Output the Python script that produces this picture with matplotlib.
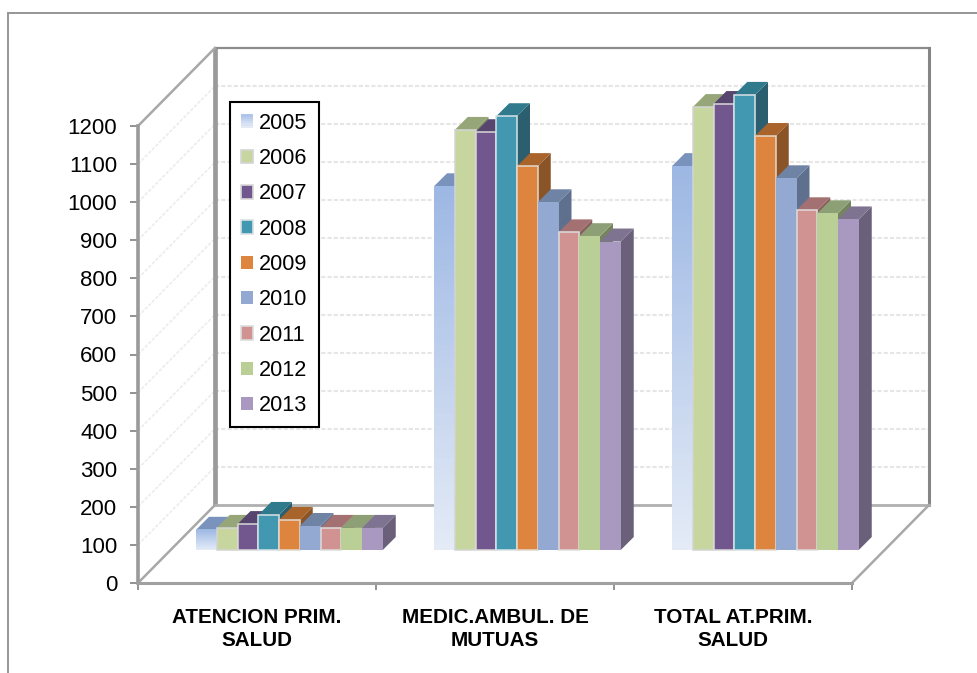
"""
Pseudo 3D clustered columns, Excel style.
"""

import matplotlib

matplotlib.use("Agg")

import matplotlib.pyplot as plt
import numpy as np
from matplotlib.colors import LinearSegmentedColormap
from matplotlib.legend_handler import HandlerBase
from matplotlib.lines import Line2D
from matplotlib.patches import Patch, Rectangle

categories = ["ATENCION PRIM.\nSALUD", "MEDIC.AMBUL. DE\nMUTUAS", "TOTAL AT.PRIM.\nSALUD"]
years = ["2005", "2006", "2007", "2008", "2009", "2010", "2011", "2012", "2013"]

atencion = [53, 58, 68, 92, 79, 63, 58, 58, 58]
mutuas = [955, 1103, 1097, 1139, 1008, 913, 834, 824, 810]
total = [1008, 1163, 1171, 1195, 1087, 976, 892, 884, 868]
groups = [atencion, mutuas, total]

front_colors = ["#a0bae6", "#c6d69e", "#72578f", "#4298b0", "#dd843f", "#94a9d1", "#d19392", "#b9cf95", "#a999c0"]
top_colors = ["#7a93bc", "#96a678", "#57446f", "#2f7a8d", "#a9642c", "#6f83a4", "#a47172", "#8d9f74", "#7f7392"]
side_colors = ["#64799b", "#7d8b62", "#47375c", "#2b5f70", "#8a5427", "#5f708f", "#8a5e5f", "#75845f", "#6a6079"]
halo_colors = ["none", "#d4d4d4", "#d9d9d9", "#d8e2e6", "#e2d8cc", "none", "#dddddd", "none", "none"]

FIG_W, FIG_H = 977, 673
LEFT, RIGHT, BOTTOM, TOP = 138, 852, 583, 126
PX_X = 3 / (RIGHT - LEFT)
PX_Y = 1200 / (BOTTOM - TOP)
WALL_X, WALL_Y = 77 * PX_X, 78 * PX_Y
BAR_DX, BAR_DY = 13 * PX_X, 13 * PX_Y
BASE_X, BASE_Y = 33 * PX_X, 33 * PX_Y
BAR_W = 20.75 * PX_X
GAP = 25 * PX_X
AXIS_GRAY = "#9a9a9a"
EDGE_GRAY = "#a8a8a8"
GRID_GRAY = "#e6e6e6"


class GradientHandler(HandlerBase):
    """Legend swatch that fades like the 2005 columns."""

    def create_artists(self, legend, orig, xd, yd, width, height, fontsize, trans):
        bands = 6
        artists = []
        for i, col in enumerate(fade(np.linspace(0, 0.75, bands))):
            artists.append(
                Rectangle(
                    (-xd, -yd + height * i / bands),
                    width,
                    height / bands + 0.2,
                    facecolor=col,
                    edgecolor="none",
                    transform=trans,
                )
            )
        return artists


fade = LinearSegmentedColormap.from_list("fade", ["#e4ebf7", "#9db8e4"])

plt.rcParams["font.family"] = ["Liberation Sans", "DejaVu Sans"]
fig = plt.figure(figsize=(FIG_W / 100, FIG_H / 100), dpi=100)
ax = fig.add_axes(
    [LEFT / FIG_W, 1 - BOTTOM / FIG_H, (RIGHT - LEFT) / FIG_W, (BOTTOM - TOP) / FIG_H]
)

# walls: gridlines first, frame on top
for level in range(100, 1200, 100):
    ax.plot([0, WALL_X], [level, level + WALL_Y], color="#ececec", lw=1.2, ls=(0, (2, 1)), clip_on=False, zorder=1)
for level in range(100, 1200, 100):
    ax.plot([WALL_X, 3 + WALL_X], [level + WALL_Y] * 2, color=GRID_GRAY, lw=1.5, ls=(0, (2, 1)), clip_on=False, zorder=1)

ax.plot([WALL_X, WALL_X], [WALL_Y, 1200 + WALL_Y], color=AXIS_GRAY, lw=3.4, clip_on=False, zorder=2, solid_capstyle="butt")
ax.plot([WALL_X, 3 + WALL_X], [1200 + WALL_Y] * 2, color="#8c8c8c", lw=1.6, clip_on=False, zorder=2)
ax.plot([3 + WALL_X] * 2, [WALL_Y, 1200 + WALL_Y], color="#858585", lw=2.2, clip_on=False, zorder=2)
ax.plot([WALL_X, 3 + WALL_X], [WALL_Y, WALL_Y], color="#b0b0b0", lw=2.0, clip_on=False, zorder=2)
ax.plot([0, WALL_X], [0, WALL_Y], color=EDGE_GRAY, lw=1.8, clip_on=False, zorder=2)
ax.plot([3, 3 + WALL_X], [0, WALL_Y], color=EDGE_GRAY, lw=1.8, clip_on=False, zorder=2)
ax.plot([0, WALL_X], [1200, 1200 + WALL_Y], color=EDGE_GRAY, lw=1.8, clip_on=False, zorder=2)

# columns, left to right so each one covers its neighbour's side face
for g, values in enumerate(groups):
    for s, value in enumerate(values):
        x0 = g + BASE_X + GAP + s * BAR_W
        x1 = x0 + BAR_W
        y0 = BASE_Y
        y1 = BASE_Y + value
        z = 3 + s * 0.1
        ax.fill(
            [x1, x1 + BAR_DX, x1 + BAR_DX, x1],
            [y0, y0 + BAR_DY, y1 + BAR_DY, y1],
            color=side_colors[s], lw=0, clip_on=False, zorder=z,
        )
        ax.fill(
            [x0, x1, x1 + BAR_DX, x0 + BAR_DX],
            [y1, y1, y1 + BAR_DY, y1 + BAR_DY],
            color=top_colors[s], lw=0, clip_on=False, zorder=z,
        )
        if s == 0:
            ax.imshow(
                np.linspace(1, 0, 64)[:, None],
                extent=(x0, x1, y0, y1),
                cmap=fade, vmin=0, vmax=1, aspect="auto",
                clip_on=False, zorder=z + 0.01,
            )
        else:
            ax.bar(
                x0, value, BAR_W, bottom=y0, align="edge",
                color=front_colors[s], edgecolor=halo_colors[s],
                linewidth=0 if halo_colors[s] == "none" else 1.1,
                clip_on=False, zorder=z + 0.01,
            )

ax.set_xlim(0, 3)
ax.set_ylim(0, 1200)
ax.set_yticks(range(0, 1300, 100))
ax.set_xticks([0, 1, 2, 3])
ax.set_xticklabels([])
ax.set_xticks([0.5, 1.5, 2.5], minor=True)
ax.set_xticklabels(categories, minor=True, fontweight="bold", fontsize=14.9, linespacing=1.3)
ax.tick_params(axis="y", length=6, width=1.2, color="#808080", pad=9, labelsize=16, labelcolor="black")
ax.tick_params(axis="x", which="major", length=5, width=1.2, color="#808080")
ax.tick_params(axis="x", which="minor", length=0, pad=18)

ax.patch.set_alpha(0)
for side in ("top", "right"):
    ax.spines[side].set_visible(False)
ax.spines["left"].set_color(AXIS_GRAY)
ax.spines["left"].set_linewidth(2.6)
ax.spines["bottom"].set_color("#a0a0a0")
ax.spines["bottom"].set_linewidth(2.2)

handles = [Patch(facecolor=c, edgecolor=halo_colors[i] if i in (1, 2, 3, 6) else "none", lw=1.2) for i, c in enumerate(front_colors)]
leg = ax.legend(
    handles, years,
    loc="upper left",
    bbox_to_anchor=(230 / FIG_W, 1 - 102 / FIG_H),
    bbox_transform=fig.transFigure,
    fontsize=15.6,
    frameon=True,
    fancybox=False,
    framealpha=1,
    edgecolor="black",
    borderaxespad=0,
    borderpad=0.5,
    handlelength=0.58,
    handleheight=0.58,
    handletextpad=0.27,
    labelspacing=0.66,
    handler_map={handles[0]: GradientHandler()},
)
leg.get_frame().set_linewidth(1.5)
leg.set_zorder(10)

# outer chart frame, open on the right and at the bottom
frame_col = "#969696"
fig.add_artist(Line2D([8 / FIG_W, 8 / FIG_W], [0, 1 - 13 / FIG_H], color=frame_col, lw=1.4))
fig.add_artist(Line2D([8 / FIG_W, 1], [1 - 13 / FIG_H] * 2, color=frame_col, lw=1.4))

fig.savefig("out.png", dpi=100)
